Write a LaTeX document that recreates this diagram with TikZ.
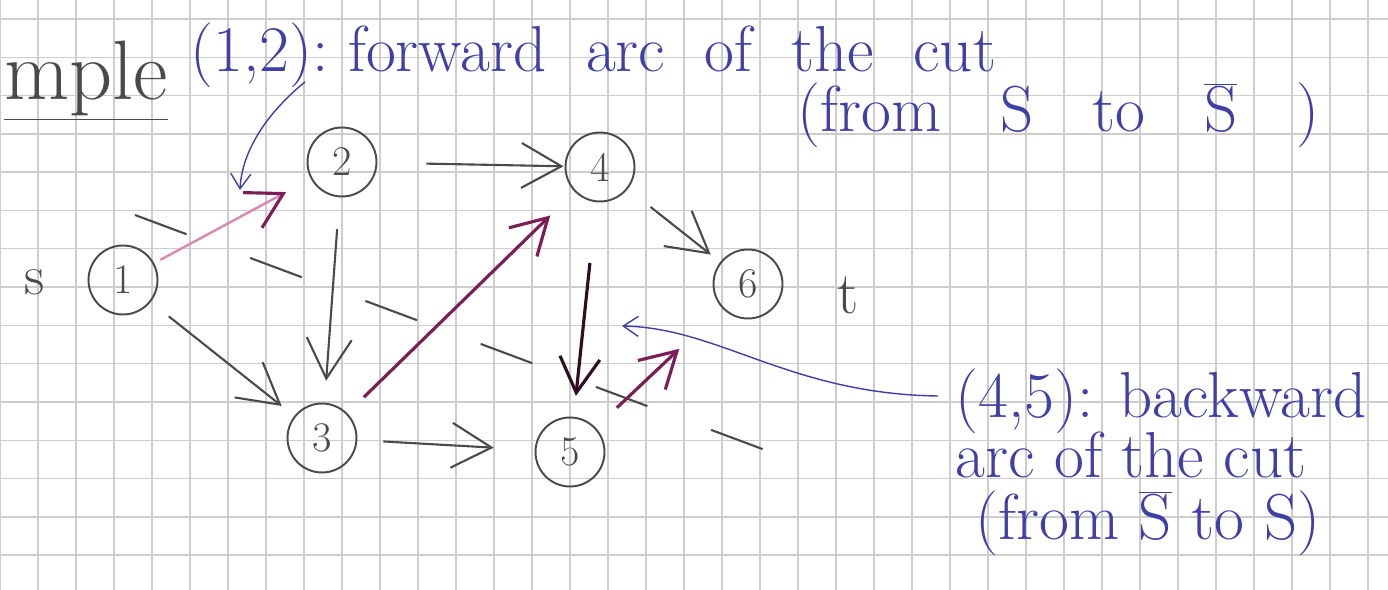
\documentclass[tikz,border=0pt]{standalone}
\definecolor{pencil}{HTML}{4A4A4A}
\definecolor{plum}{HTML}{7A1E55}
\definecolor{rosepink}{HTML}{D98AB2}
\definecolor{ink}{HTML}{3F3FA8}
\definecolor{gridgrey}{HTML}{CDCDCD}
\usetikzlibrary{arrows.meta}

\newcommand{\Sbar}{\(\overline{\hbox{S}}\)}

\begin{document}
\begin{tikzpicture}[
  x=0.02cm, y=-0.02cm,
  vert/.style={circle, draw=pencil, line width=1.1pt, minimum size=1.38cm,
    inner sep=0pt, text=pencil, font=\fontsize{24}{28}\selectfont},
  plain/.style={-{Straight Barb[length=8mm,width=9mm]}, pencil, line width=1.2pt},
  cutarc/.style={-{Straight Barb[length=7mm,width=8mm]}, plum, line width=1.8pt},
  note/.style={ink, font=\fontsize{37}{44}\selectfont, anchor=base west, inner sep=0pt},
  notearr/.style={-{Straight Barb[length=3mm,width=4mm]}, ink, line width=0.8pt},
]
  \useasboundingbox (0,0) rectangle (1388,590);
  \clip (0,0) rectangle (1388,590);

  % squared paper
  \foreach \i in {0,...,36}
    \draw[gridgrey, line width=0.8pt] (38*\i,0) -- (38*\i,590);
  \foreach \j in {0,...,15}
    \draw[gridgrey, line width=0.8pt] (0,19+38.3*\j) -- (1388,19+38.3*\j);

  \node[pencil, font=\fontsize{48}{54}\selectfont, anchor=base west, inner sep=0pt]
    (title) at (4,100) {\underline{mple}};

  % the network
  \node[vert] (n1) at (123,280) {1};
  \node[vert] (n2) at (342,162) {2};
  \node[vert] (n3) at (322,438) {3};
  \node[vert] (n4) at (600,167) {4};
  \node[vert] (n5) at (570,452) {5};
  \node[vert] (n6) at (748,284) {6};
  \node[pencil, font=\fontsize{32}{38}\selectfont] (src) at (35,282) {s};
  \node[pencil, font=\fontsize{34}{40}\selectfont] (snk) at (848,295) {t};

  % the cut
  \coordinate (cutA) at (135,215);
  \coordinate (cutB) at (765,450);
  \draw[pencil, line width=1.2pt, dash pattern=on 1.1cm off 1.36cm] (cutA) -- (cutB);

  \draw[cutarc, rosepink, line width=1.4pt,
    -{Straight Barb[length=7mm,width=8mm,color=plum,line width=1.8pt]},
    shorten <=0.14cm, shorten >=0.56cm] (n1) -- (n2);
  \draw[plain, shorten <=0.46cm, shorten >=0.32cm] (n1) -- (n3);
  \draw[plain, shorten <=0.98cm, shorten >=0.02cm] (n2) -- (n4);
  \draw[plain, shorten <=0.64cm, shorten >=0.44cm] (n2) -- (n3);
  \draw[plain, shorten <=0.52cm, shorten >=0.82cm] (n3) -- (n5);
  \draw[cutarc, shorten <=0.46cm, shorten >=0.68cm] (n3) -- (n4);
  \draw[plain, shorten <=0.58cm, shorten >=0.24cm] (n4) -- (n6);
  \draw[cutarc, plum!40!black, shorten <=1.22cm, shorten >=0.42cm] (n4) -- (n5);
  \draw[cutarc, shorten <=0.58cm, shorten >=1.18cm] (n5) -- (n6);

  % notes
  \node[note] (fwdtxt) at (190,72) {(1,2):\ forward \ arc \ of \ the \ cut};
  \node[note] (fwdsub) at (797,132) {(from \ \ S \ \ to \ \ \Sbar{} \ \ )};
  \node[note] (bwdtxt) at (955,418) {(4,5): backward};
  \node[note] (bwdarc) at (955,478) {arc of the cut};
  \node[note] (bwdsub) at (975,540) {(from \Sbar{} to S)};

  \coordinate (fwdA) at (305,82);
  \coordinate (fwdB) at (240,190);
  \draw[notearr] (fwdA) .. controls (268,112) and (242,150) .. (fwdB);
  \coordinate (bwdA) at (938,396);
  \coordinate (bwdB) at (622,326);
  \draw[notearr] (bwdA) .. controls (790,394) and (720,328) .. (bwdB);
\end{tikzpicture}
\end{document}
